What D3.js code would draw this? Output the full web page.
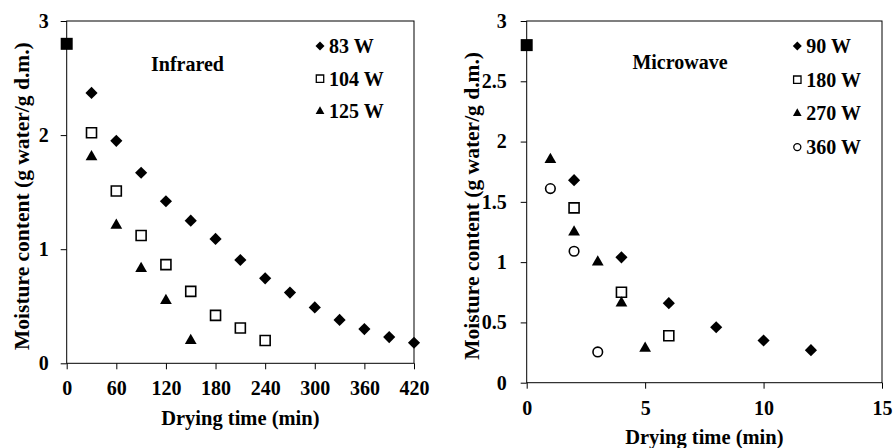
<!DOCTYPE html>
<html>
<head>
<meta charset="utf-8">
<script src="https://cdn.jsdelivr.net/npm/d3@7"></script>
<style>
  body { margin: 0; background: #fff; }
  text { font-family: "Liberation Serif", "Times New Roman", serif; font-weight: bold; fill: #000; }
</style>
</head>
<body>
<div id="chart"></div>
<script>
// initial moisture (both dryers)
var startPoint = [0, 2.8];

// infrared drying
var irTicksX = [0, 60, 120, 180, 240, 300, 360, 420];
var irTicksY = [0, 1, 2, 3];
var irTime83 = [30, 60, 90, 120, 150, 180, 210, 240, 270, 300, 330, 360, 390, 420];
var ir83 = [2.37, 1.95, 1.67, 1.42, 1.25, 1.09, 0.905, 0.745, 0.62, 0.49, 0.38, 0.30, 0.23, 0.18];
var irTime104 = [30, 60, 90, 120, 150, 180, 210, 240];
var ir104 = [2.02, 1.51, 1.12, 0.865, 0.63, 0.42, 0.31, 0.20];
var irTime125 = [30, 60, 90, 120, 150];
var ir125 = [1.81, 1.21, 0.83, 0.55, 0.20];

// microwave drying
var mwTicksX = [0, 5, 10, 15];
var mwTicksY = [0, 0.5, 1, 1.5, 2, 2.5, 3];
var mwTime90 = [2, 4, 6, 8, 10, 12];
var mw90 = [1.68, 1.04, 0.66, 0.46, 0.35, 0.27];
var mwTime180 = [2, 4, 6];
var mw180 = [1.45, 0.75, 0.39];
var mwTime270 = [1, 2, 3, 4, 5];
var mw270 = [1.85, 1.25, 1.00, 0.66, 0.285];
var mwTime360 = [1, 2, 3];
var mw360 = [1.61, 1.09, 0.255];

var svg = d3.select("#chart")
    .append("svg")
    .attr("width", 893)
    .attr("height", 448);

var symbolStyles = {
    diamond: { type: d3.symbolSquare, size: 74, rotate: 45, fill: "#000", stroke: "none" },
    square: { type: d3.symbolSquare, size: 100, rotate: 0, fill: "#fff", stroke: "#000" },
    triangle: { type: d3.symbolTriangle, size: 60, rotate: 0, fill: "#000", stroke: "none" },
    circle: { type: d3.symbolCircle, size: 72, rotate: 0, fill: "#fff", stroke: "#000" }
};

function drawPanel(cfg) {
    var w = cfg.width, h = cfg.height;
    var g = svg.append("g")
        .attr("transform", "translate(" + cfg.left + "," + cfg.top + ")");

    var x = d3.scaleLinear().domain(cfg.xDomain).range([0, w]);
    var y = d3.scaleLinear().domain(cfg.yDomain).range([h, 0]);

    var xAxis = g.append("g")
        .attr("transform", "translate(0," + h + ")")
        .call(d3.axisBottom(x).tickValues(cfg.xTicks).tickSize(6).tickPadding(12)
            .tickFormat(d3.format("d")));
    var yAxis = g.append("g")
        .call(d3.axisLeft(y).tickValues(cfg.yTicks).tickSize(6).tickPadding(cfg.yPad)
            .tickFormat(function (d) { return d; }));

    [xAxis, yAxis].forEach(function (a) {
        a.select(".domain").remove();
        a.selectAll("line").attr("stroke", "#000");
        a.selectAll("text").style("font-size", "20px")
            .style("font-family", "'Liberation Serif', 'Times New Roman', serif")
            .style("font-weight", "bold").attr("fill", "#000");
    });

    g.append("rect")
        .attr("width", w).attr("height", h)
        .attr("fill", "none").attr("stroke", "#000").attr("stroke-width", 1);

    g.append("text")
        .attr("x", w / 2).attr("y", h + cfg.xTitleY)
        .attr("text-anchor", "middle")
        .style("font-size", "20.5px")
        .text("Drying time (min)");

    g.append("text")
        .attr("transform", "translate(" + cfg.yTitleX + "," + (h / 2 + 4) + ") rotate(-90)")
        .attr("text-anchor", "middle")
        .style("font-size", "21.5px")
        .text("Moisture content (g water/g d.m.)");

    g.append("text")
        .attr("x", cfg.labelX).attr("y", cfg.labelY)
        .attr("text-anchor", "middle")
        .style("font-size", "20px")
        .text(cfg.label);

    cfg.series.forEach(function (s) {
        var st = symbolStyles[s.shape];
        var pts = s.time.map(function (t, i) { return [t, s.values[i]]; });
        g.selectAll(null)
            .data(pts)
            .enter()
            .append("path")
            .attr("d", d3.symbol().type(st.type).size(st.size))
            .attr("transform", function (d) {
                return "translate(" + x(d[0]) + "," + y(d[1]) + ") rotate(" + st.rotate + ")";
            })
            .attr("fill", st.fill)
            .attr("stroke", st.stroke)
            .attr("stroke-width", 1.6);
    });

    // start point
    g.append("rect")
        .attr("x", x(startPoint[0]) - 6).attr("y", y(startPoint[1]) - 6)
        .attr("width", 12).attr("height", 12)
        .attr("fill", "#000");

    // legend
    cfg.series.forEach(function (s, i) {
        var st = symbolStyles[s.shape];
        var ly = cfg.legendY + i * cfg.legendStep;
        g.append("path")
            .attr("d", d3.symbol().type(st.type).size(st.size * 0.55))
            .attr("transform", "translate(" + cfg.legendX + "," + (ly - 7) + ") rotate(" + st.rotate + ")")
            .attr("fill", st.fill)
            .attr("stroke", st.stroke)
            .attr("stroke-width", 1.3);
        g.append("text")
            .attr("x", cfg.legendX + 9).attr("y", ly)
            .style("font-size", "20px")
            .text(s.name);
    });
}

drawPanel({
    left: 66.7, top: 21, width: 347.3, height: 342.3,
    xDomain: [0, 420], yDomain: [0, 3],
    xTicks: irTicksX, yTicks: irTicksY, yPad: 12,
    xTitleY: 62, yTitleX: -37.5,
    label: "Infrared", labelX: 120.8, labelY: 50,
    legendX: 253.3, legendY: 32, legendStep: 32.7,
    series: [
        { name: "83 W", shape: "diamond", time: irTime83, values: ir83 },
        { name: "104 W", shape: "square", time: irTime104, values: ir104 },
        { name: "125 W", shape: "triangle", time: irTime125, values: ir125 }
    ]
});

drawPanel({
    left: 526.7, top: 21, width: 355.3, height: 361.7,
    xDomain: [0, 15], yDomain: [0, 3],
    xTicks: mwTicksX, yTicks: mwTicksY, yPad: 14,
    xTitleY: 61, yTitleX: -47.5,
    label: "Microwave", labelX: 153.3, labelY: 48,
    legendX: 270.6, legendY: 32, legendStep: 33.7,
    series: [
        { name: "90 W", shape: "diamond", time: mwTime90, values: mw90 },
        { name: "180 W", shape: "square", time: mwTime180, values: mw180 },
        { name: "270 W", shape: "triangle", time: mwTime270, values: mw270 },
        { name: "360 W", shape: "circle", time: mwTime360, values: mw360 }
    ]
});
</script>
</body>
</html>
